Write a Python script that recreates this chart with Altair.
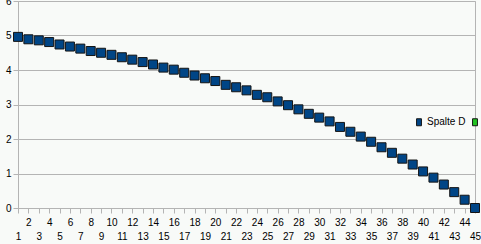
import altair as alt
import pandas as pd

x_vals = list(range(1, 46))
y_vals = [4.96, 4.89, 4.86, 4.81, 4.74, 4.68, 4.62, 4.55, 4.50, 4.44,
          4.37, 4.30, 4.23, 4.16, 4.07, 4.01, 3.92, 3.84, 3.76, 3.68,
          3.57, 3.50, 3.41, 3.28, 3.21, 3.09, 2.98, 2.86, 2.73, 2.62,
          2.51, 2.35, 2.21, 2.07, 1.92, 1.76, 1.60, 1.43, 1.26, 1.06,
          0.88, 0.68, 0.46, 0.24, 0.0]
series_names = ["Spalte D", "Spalte E"]
series_colors = ["#004586", "#22c422"]
y_ticks = [0, 1, 2, 3, 4, 5, 6]

df = pd.DataFrame({"x": x_vals, "y": y_vals, "series": series_names[0]})

FONT = "Liberation Sans"
GRID = "#b4b4b4"

chart = alt.Chart(df).mark_point(
    shape="square", filled=True, size=81, stroke="#141414", strokeWidth=1, opacity=1
).encode(
    x=alt.X("x:Q", scale=alt.Scale(domain=[1, 45], nice=False, zero=False),
            axis=alt.Axis(values=x_vals, title=None, grid=False, labelOverlap=False,
                          labelFlush=False, tickSize=5, tickColor=GRID, domainColor=GRID,
                          labelFont=FONT, labelFontSize=10, labelColor="#000000",
                          labelPadding={"condition": {"test": "datum.value % 2 === 0", "value": 4},
                                        "value": 18})),
    y=alt.Y("y:Q", scale=alt.Scale(domain=[0, 6], nice=False),
            axis=alt.Axis(values=y_ticks, title=None, grid=True, gridColor=GRID,
                          tickSize=5, tickColor=GRID, domainColor=GRID, labelPadding=2,
                          labelFont=FONT, labelFontSize=10, labelColor="#000000")),
    color=alt.Color("series:N",
                    scale=alt.Scale(domain=series_names, range=series_colors),
                    legend=alt.Legend(title=None, orient="none", legendX=396, legendY=116,
                                      direction="horizontal", columns=2, columnPadding=4,
                                      symbolType="M-0.7,-1H0.7V1H-0.7Z", symbolSize=49,
                                      symbolStrokeColor="#141414", symbolStrokeWidth=1,
                                      symbolOpacity=1, labelOffset=3,
                                      labelFont=FONT, labelFontSize=10, labelColor="#000000")),
).properties(
    width=457, height=207,
    padding={"left": 18, "top": 1, "right": 6, "bottom": 36},
    autosize="none",
    background="#f8faf8",
).configure_view(stroke=GRID, fill="#f8faf8")

chart.save("out.html", embed_options={"renderer": "svg", "actions": False})
